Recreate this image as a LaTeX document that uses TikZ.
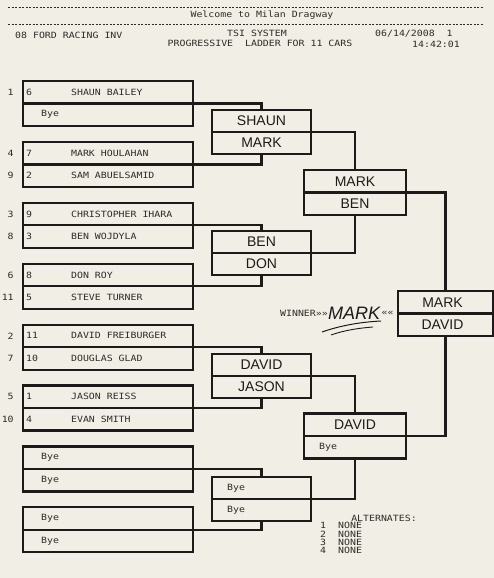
\documentclass[tikz,border=0pt]{standalone}
\usepackage{fontspec}
\usepackage{xcolor}
\usepackage{tikz}
\usetikzlibrary{positioning}

\newfontfamily\dotfont[FakeStretch=1.15]{DejaVu Sans Mono}
\newfontfamily\handfont{Liberation Sans}

\definecolor{paper}{RGB}{240,238,229}
\definecolor{ink}{RGB}{28,27,25}
\definecolor{inkp}{RGB}{45,44,41}

\begin{document}
\begin{tikzpicture}[x=1pt, y=-1pt,
            % Ladder boxes
            heat/.style={draw=ink, line width=2.2pt, inner sep=0pt,
                    minimum width=170pt, minimum height=45pt},
            pairbox/.style={heat, minimum width=99pt, minimum height=44pt},
            semibox/.style={heat, minimum width=102pt, minimum height=45pt},
            finalbox/.style={heat, minimum width=95pt, minimum height=45pt},
            % Ladder lines
            wire/.style={draw=ink, line width=2.2pt},
            % Printout text
            printed/.style={font={\dotfont\fontsize{8.6}{10}\selectfont}, text=inkp, inner sep=0pt},
            % Pen text
            hand/.style={font={\handfont\fontsize{14}{16}\selectfont}, text=ink, inner sep=0pt}
        ]

        \useasboundingbox (0,0) rectangle (494,578);
        \fill[paper] (0,0) rectangle (494,578);

        % Header
        \draw[inkp, line width=0.8pt, dash pattern=on 2pt off 1.5pt] (8,7) -- (483,7);
        \draw[inkp, line width=0.8pt, dash pattern=on 2pt off 1.5pt] (8,24) -- (483,24);
        \node[printed] (welcome) at (262,15) {Welcome to Milan Dragway};
        \node[printed, anchor=west] (event) at (15,35) {08 FORD RACING INV};
        \node[printed] (system) at (257,33) {TSI SYSTEM};
        \node[printed] (ladder) at (260,43) {PROGRESSIVE\ \ LADDER FOR 11 CARS};
        \node[printed, anchor=west] (date) at (375,34) {06/14/2008\ \ 1};
        \node[printed, anchor=west] (time) at (412,44) {14:42:01};

        % 1. First round
        \foreach \k in {1,...,8}
            \node[heat] (h\k) at (108, {42.6+60.9*\k}) {};

        \foreach \b/\dy/\sd/\car/\who in {
                1/11.25/1/6/SHAUN BAILEY,
                2/11.25/4/7/MARK HOULAHAN, 2/-11.25/9/2/SAM ABUELSAMID,
                3/11.25/3/9/CHRISTOPHER IHARA, 3/-11.25/8/3/BEN WOJDYLA,
                4/11.25/6/8/DON ROY, 4/-11.25/11/5/STEVE TURNER,
                5/11.25/2/11/DAVID FREIBURGER, 5/-11.25/7/10/DOUGLAS GLAD,
                6/11.25/5/1/JASON REISS, 6/-11.25/10/4/EVAN SMITH} {
            \node[printed, anchor=east] (seed\sd) at ([xshift=-8pt, yshift=\dy pt]h\b.west) {\sd};
            \node[printed, anchor=west] (car\sd) at ([xshift=4pt, yshift=\dy pt]h\b.west) {\car};
            \node[printed, anchor=west] (who\sd) at ([xshift=49pt, yshift=\dy pt]h\b.west) {\who};
        }

        \foreach \b/\dy [count=\i] in {1/-11.25, 7/11.25, 7/-11.25, 8/11.25, 8/-11.25}
            \node[printed, anchor=west] (bye\i) at ([xshift=19pt, yshift=\dy pt]h\b.west) {Bye};

        % 2. Second round
        \node[pairbox] (q1) at (261.5,132) {};
        \node[pairbox] (q2) at (261.5,253) {};
        \node[pairbox] (q3) at (261.5,376) {};
        \node[pairbox] (q4) at (261.5,499) {};

        \node[hand] (q1a) at ([yshift=11pt]q1.center) {SHAUN};
        \node[hand] (q1b) at ([yshift=-11pt]q1.center) {MARK};
        \node[hand] (q2a) at ([yshift=11pt]q2.center) {BEN};
        \node[hand] (q2b) at ([yshift=-11pt]q2.center) {DON};
        \node[hand] (q3a) at ([yshift=11pt]q3.center) {DAVID};
        \node[hand] (q3b) at ([yshift=-11pt]q3.center) {JASON};
        \node[printed, anchor=west] (q4a) at ([xshift=16pt, yshift=11pt]q4.west) {Bye};
        \node[printed, anchor=west] (q4b) at ([xshift=16pt, yshift=-11pt]q4.west) {Bye};

        % 3. Third round
        \node[semibox] (s1) at (355,192.5) {};
        \node[semibox] (s2) at (355,436) {};

        \node[hand] (s1a) at ([yshift=11pt]s1.center) {MARK};
        \node[hand] (s1b) at ([yshift=-11pt]s1.center) {BEN};
        \node[hand] (s2a) at ([yshift=11pt]s2.center) {DAVID};
        \node[printed, anchor=west] (s2b) at ([xshift=16pt, yshift=-11pt]s2.west) {Bye};

        % 4. Final
        \node[finalbox] (f) at (445.5,313.5) {};
        \node[hand] (fa) at ([xshift=-3pt, yshift=11pt]f.center) {MARK};
        \node[hand] (fb) at ([xshift=-3pt, yshift=-11pt]f.center) {DAVID};

        % Lines
        \foreach \a/\b/\c in {1/2/1, 3/4/2, 5/6/3, 7/8/4} {
            \draw[wire] (h\a.west) -- (h\a.east) -| (q\c.north);
            \draw[wire] (h\b.west) -- (h\b.east) -| (q\c.south);
        }
        \draw[wire] (q1.west) -- (q1.east) -| (s1.north);
        \draw[wire] (q2.west) -- (q2.east) -| (s1.south);
        \draw[wire] (q3.west) -- (q3.east) -| (s2.north);
        \draw[wire] (q4.west) -- (q4.east) -| (s2.south);
        \draw[wire] (s1.west) -- (s1.east) -| (f.north);
        \draw[wire] (s2.west) -- (s2.east) -| (f.south);
        \draw[wire] (f.west) -- (f.east);

        % Winner
        \node[printed, anchor=east] (winlbl) at (328,313) {WINNER»»};
        \node[hand, font={\handfont\itshape\fontsize{18}{20}\selectfont}, right=0pt of winlbl] (champ) {MARK};
        \node[printed, right=1pt of champ] (winend) {««};
        \draw[ink, line width=1pt] (322,332) .. controls (342,325) and (362,322) .. (381,321);
        \draw[ink, line width=0.9pt] (331,335) .. controls (345,330) and (360,328) .. (373,327);

        % Alternates
        \node[printed] (alt) at (384,518) {ALTERNATES:};
        \foreach \i in {1,...,4} {
            \node[printed] (altno\i) at (323, {517.4+8.3*\i}) {\i};
            \node[printed, anchor=west] (altname\i) at (338, {517.4+8.3*\i}) {NONE};
        }

    \end{tikzpicture}
\end{document}
